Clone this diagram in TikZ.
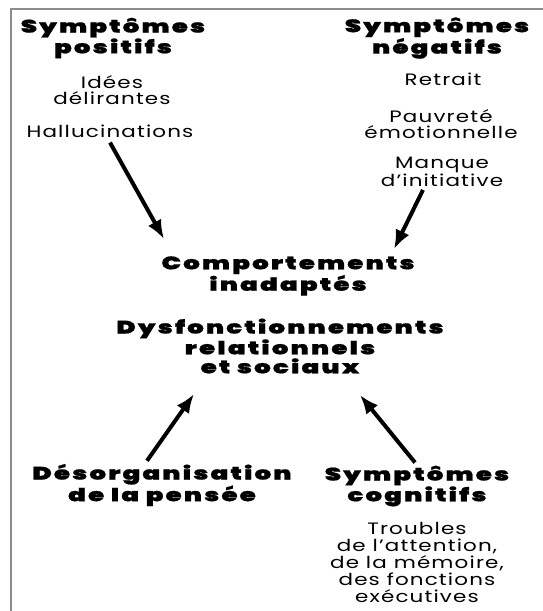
\documentclass[tikz,border=0pt]{standalone}
\usepackage{fontspec}
\setmainfont{Poppins}
\newfontfamily\headfont{Poppins Black}[FakeStretch=1.45, LetterSpace=12, FakeBold=1]
\newfontfamily\bodyfont{Poppins}[FakeStretch=1.3, LetterSpace=7]
\usetikzlibrary{arrows.meta}
\usetikzlibrary{calc}
\usetikzlibrary{positioning}

\begin{document}
\begin{tikzpicture}
[
	x = 1pt, y = -1pt,
	head/.style	= {align = center, inner sep = 0pt, font = \headfont\fontsize{18}{19}\selectfont},
	item/.style	= {align = center, inner sep = 0pt, font = \bodyfont\fontsize{16.5}{15.5}\selectfont},
	link/.style	= {-{Latex[length = 19pt, width = 15pt]}, line width = 4pt},
	frame/.style	= {draw = black!45, line width = 2pt},
]

	\useasboundingbox (0,0) rectangle (543,611);
	\draw [frame] (11,611) -- (11,9) -- (543,9);

	\node (posTitle) [head] at (113,38) {Symptômes\\positifs};
	\node (idees) [item] at (112,90) {Idées\\délirantes};
	\node (halluc) [item] at (110,131) {Hallucinations};
	%
	\node (negTitle) [head] at (437,38) {Symptômes\\négatifs};
	\node (retrait) [item] at (443,79) {Retrait};
	\node (pauvrete) [item] at (441,124) {Pauvreté\\émotionnelle};
	\node (manque) [item] at (442,172) {Manque\\d’initiative};
	%
	\node (comport) [head] at (288,276) {Comportements\\inadaptés};
	\node (dysf) [head] at (280,346) {Dysfonctionnements\\relationnels\\et sociaux};
	%
	\node (desorg) [head] at (162,485) {Désorganisation\\de la pensée};
	\node (cognTitle) [head] at (417,486) {Symptômes\\cognitifs};
	\node (troubles) [item, font = \bodyfont\fontsize{16.5}{17}\selectfont] at (417,562) {Troubles\\de l’attention,\\de la mémoire,\\des fonctions\\exécutives};

	\coordinate (in1) at (164,239);
	\coordinate (in2) at (394,249);
	\coordinate (in3) at (194,394);
	\coordinate (in4) at (360,395);

	\draw [link] ($(halluc.south)+(0,5)$) -- (in1);
	\draw [link] ($(manque.south)+(-19,3)$) -- (in2);
	\draw [link] ($(desorg.north)+(-15,-3)$) -- (in3);
	\draw [link] ($(cognTitle.north)+(-2,-3)$) -- (in4);

\end{tikzpicture}
\end{document}
